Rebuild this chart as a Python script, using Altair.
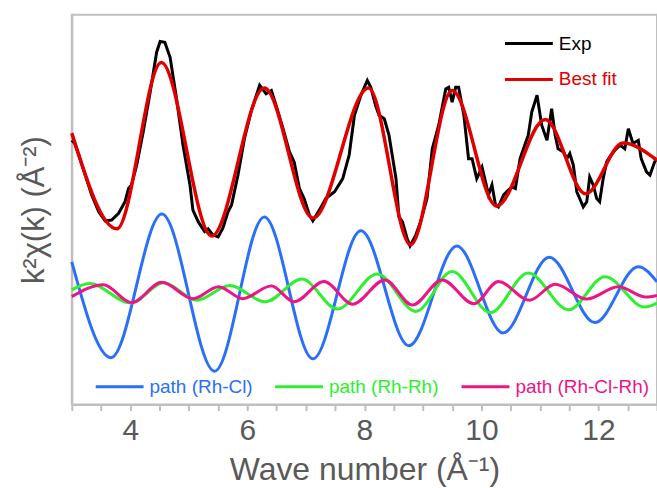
import altair as alt
import pandas as pd

# ---- Experimental k^2 chi(k) (arbitrary units) ----
exp_k = [3.00, 3.05, 3.12, 3.23, 3.34, 3.46, 3.57, 3.68, 3.80, 3.91, 3.97, 4.02, 4.11, 4.22,
         4.34, 4.45, 4.51, 4.59, 4.68, 4.79, 4.90, 5.02, 5.07, 5.16, 5.27, 5.33, 5.41, 5.50,
         5.58, 5.67, 5.73, 5.84, 5.95, 6.07, 6.21, 6.32, 6.41, 6.49, 6.61, 6.72, 6.80, 6.89,
         6.97, 7.06, 7.12, 7.23, 7.34, 7.49, 7.63, 7.74, 7.83, 7.94, 8.05, 8.11, 8.19, 8.25,
         8.34, 8.42, 8.54, 8.59, 8.65, 8.73, 8.78, 8.88, 8.96, 9.07, 9.16, 9.27, 9.39, 9.44,
         9.50, 9.56, 9.61, 9.70, 9.78, 9.84, 9.92, 10.01, 10.07, 10.12, 10.18, 10.24, 10.29,
         10.38, 10.46, 10.52, 10.58, 10.66, 10.75, 10.80, 10.86, 10.95, 11.03, 11.12, 11.20,
         11.26, 11.31, 11.40, 11.46, 11.51, 11.57, 11.63, 11.68, 11.74, 11.80, 11.85, 11.91,
         11.97, 12.02, 12.08, 12.14, 12.19, 12.28, 12.37, 12.45, 12.51, 12.59, 12.68, 12.73,
         12.82, 12.88, 12.96, 13.00]
exp_chi = [4.00, 3.92, 3.63, 3.13, 2.63, 2.21, 1.98, 2.00, 2.17, 2.46, 2.79, 2.88, 3.38, 4.21,
           5.21, 6.21, 6.48, 6.46, 6.08, 5.04, 3.88, 2.88, 2.25, 1.96, 1.71, 1.78, 1.63, 1.58,
           1.79, 2.21, 2.38, 3.13, 4.04, 4.75, 5.38, 5.17, 5.25, 4.88, 4.29, 3.71, 3.46, 2.79,
           2.54, 2.13, 1.98, 2.25, 2.54, 2.71, 3.04, 3.63, 4.63, 5.13, 5.50, 5.33, 4.88, 4.63,
           4.54, 4.13, 3.04, 2.08, 1.96, 1.54, 1.35, 1.63, 1.96, 2.54, 3.79, 4.38, 5.29, 5.33,
           4.96, 5.33, 5.33, 4.63, 3.54, 3.54, 3.04, 3.33, 2.96, 2.63, 2.88, 2.38, 2.33,
           2.63, 2.75, 2.83, 2.79, 3.54, 3.92, 4.13, 4.71, 5.13, 4.38, 4.00, 4.79,
           4.13, 3.79, 3.71, 3.54, 3.67, 3.38, 2.71, 2.54, 2.33, 2.46, 3.08, 2.88,
           2.54, 2.46, 3.04, 3.46, 3.58, 3.75, 3.88, 3.79, 4.29, 3.92, 4.00, 3.54,
           3.21, 3.13, 3.46, 3.55]

# ---- Best fit (extrema) ----
fit_k = [3.00, 3.77, 4.53, 5.39, 6.29, 7.12, 8.07, 8.79, 9.50, 10.26, 11.09, 11.78, 12.42, 13.00]
fit_chi = [4.18, 1.78, 5.95, 1.60, 5.31, 2.05, 5.31, 1.38, 5.25, 2.35, 4.52, 2.66, 3.93, 3.50]

# ---- Scattering paths ----
rhcl_k = [3.00, 3.67, 4.54, 5.44, 6.29, 7.12, 7.94, 8.76, 9.58, 10.37, 11.16, 11.94, 12.68, 13.00]
rhcl_chi = [0.95, -1.45, 2.15, -1.79, 2.08, -1.48, 1.73, -1.15, 1.35, -0.83, 1.07, -0.57, 0.83, 0.45]

rhrh_k = [3.00, 3.30, 4.01, 4.57, 5.14, 5.70, 6.31, 6.93, 7.54, 8.22, 8.88, 9.50, 10.15, 10.80,
          11.49, 12.11, 12.79, 13.00]
rhrh_chi = [0.25, 0.41, -0.08, 0.43, -0.01, 0.36, -0.05, 0.52, -0.23, 0.65, -0.29, 0.71, -0.32,
            0.67, -0.25, 0.58, -0.18, -0.08]

rhclrh_k = [3.00, 3.54, 4.02, 4.54, 5.07, 5.51, 5.92, 6.41, 6.80, 7.31, 7.80, 8.35, 8.82, 9.33,
            9.87, 10.29, 10.82, 11.26, 11.80, 12.34, 12.81, 13.00]
rhclrh_chi = [0.08, 0.38, -0.07, 0.44, 0.03, 0.33, 0.03, 0.35, -0.05, 0.46, -0.11, 0.50, -0.13,
              0.50, -0.10, 0.46, -0.01, 0.39, 0.02, 0.33, 0.07, 0.11]

top_names = ["Exp", "Best fit"]
top_colors = ["#000000", "#e00000"]
path_names = ["path (Rh-Cl)", "path (Rh-Rh)", "path (Rh-Cl-Rh)"]
path_colors = ["#2a6ff7", "#2ef02e", "#ec1488"]
tick_values = [3, 3.5, 4, 4.5, 5, 5.5, 6, 6.5, 7, 7.5, 8, 8.5, 9, 9.5, 10, 10.5, 11, 11.5,
               12, 12.5, 13]

exp_df = pd.DataFrame({"k": exp_k, "chi": exp_chi, "series": "Exp"})
fit_df = pd.DataFrame({"k": fit_k, "chi": fit_chi, "series": "Best fit"})
paths_df = pd.concat([
    pd.DataFrame({"k": rhcl_k, "chi": rhcl_chi, "path": path_names[0]}),
    pd.DataFrame({"k": rhrh_k, "chi": rhrh_chi, "path": path_names[1]}),
    pd.DataFrame({"k": rhclrh_k, "chi": rhclrh_chi, "path": path_names[2]}),
])

FONT = "Liberation Sans"
GRAY = "#bfbfbf"
TXT = "#595959"

x_enc = alt.X(
    "k:Q",
    scale=alt.Scale(domain=[3, 13], nice=False, zero=False),
    axis=alt.Axis(
        title="Wave number (Å⁻¹)",
        values=tick_values,
        labelExpr="datum.value % 2 == 0 ? format(datum.value, 'd') : ''",
        grid=False, domainColor=GRAY, domainWidth=2,
        tickColor=GRAY, tickWidth=2, tickSize=6,
        labelFont=FONT, labelFontSize=30, labelColor=TXT, labelPadding=5,
        titleFont=FONT, titleFontSize=32, titleColor=TXT, titleFontWeight="normal",
        titlePadding=9,
    ),
)
y_enc = alt.Y(
    "chi:Q",
    scale=alt.Scale(domain=[-2.625, 7.15], nice=False, zero=False),
    axis=alt.Axis(
        title="k²χ(k) (Å⁻²)",
        labels=False, ticks=False, grid=False,
        domainColor=GRAY, domainWidth=2,
        titleFont=FONT, titleFontSize=31, titleColor=TXT, titleFontWeight="normal",
        titlePadding=21,
    ),
)

color_scale = alt.Scale(domain=top_names, range=top_colors)
top_legend = alt.Legend(
    title=None, orient="none", legendX=433, legendY=3.5, direction="vertical",
    symbolType="stroke", symbolSize=2304, symbolStrokeWidth=3,
    labelFont=FONT, labelFontSize=19, labelOffset=4.5, rowPadding=-19, padding=0,
    labelColor={"expr": "datum.label == 'Exp' ? '#000000' : '#e00000'"},
)
path_legend = alt.Legend(
    title=None, orient="none", legendX=22.5, legendY=347.5, direction="horizontal",
    symbolType="stroke", symbolSize=2304, symbolStrokeWidth=3,
    labelFont=FONT, labelFontSize=19, labelOffset=4.5, columnPadding=16, padding=0,
    labelColor={"expr": "datum.label == 'path (Rh-Cl)' ? '#2a6ff7' : datum.label == 'path (Rh-Rh)' ? '#2ef02e' : '#ec1488'"},
)

paths = alt.Chart(paths_df).mark_line(strokeWidth=3, interpolate="monotone").encode(
    x=x_enc, y=y_enc,
    stroke=alt.Stroke("path:N", scale=alt.Scale(domain=path_names, range=path_colors),
                      legend=path_legend),
    order=alt.Order("k:Q"),
)
exp_line = alt.Chart(exp_df).mark_line(strokeWidth=3, interpolate="linear").encode(
    x=x_enc, y=y_enc,
    color=alt.Color("series:N", scale=color_scale, legend=top_legend),
)
fit_line = alt.Chart(fit_df).mark_line(strokeWidth=3.5, interpolate="monotone").encode(
    x=x_enc, y=y_enc,
    color=alt.Color("series:N", scale=color_scale, legend=top_legend),
)

chart = alt.layer(paths, exp_line, fit_line).properties(
    width=587, height=391,
    autosize=alt.AutoSizeParams(type="none"),
    padding={"left": 72, "top": 14, "right": 0, "bottom": 83},
    background="white",
).configure_view(stroke=GRAY, strokeWidth=2)

chart.save("out.html", embed_options={"renderer": "svg", "actions": False})
